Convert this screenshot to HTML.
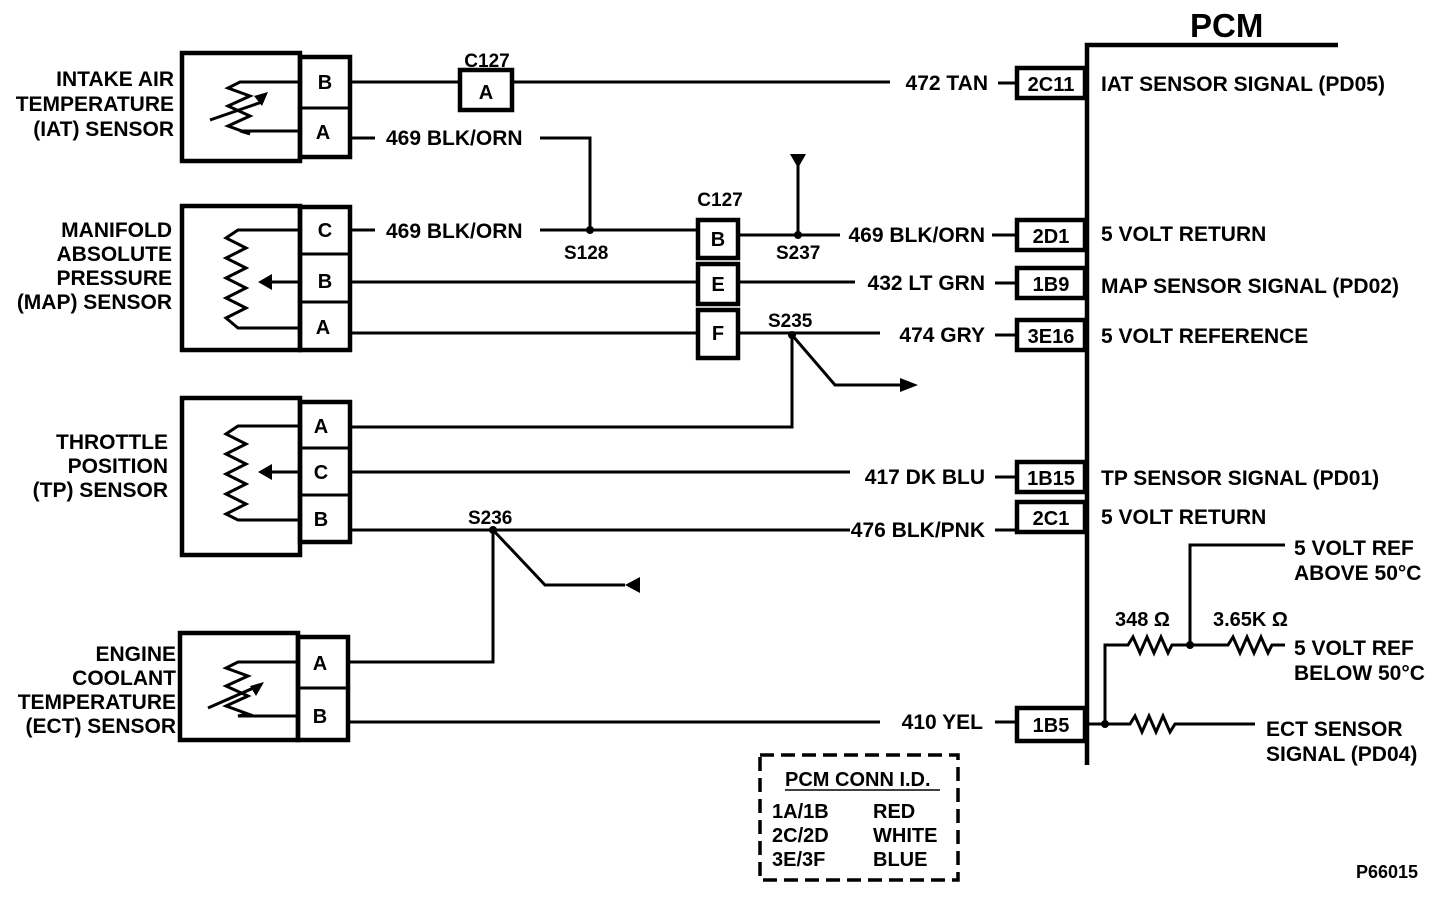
<!DOCTYPE html>
<html><head><style>body{margin:0;background:#fff}svg{display:block}text{font-family:"Liberation Sans",sans-serif;font-weight:bold;fill:#000}</style></head><body>
<svg width="1456" height="900" viewBox="0 0 1456 900" xmlns="http://www.w3.org/2000/svg">
<g stroke="#000" fill="none" stroke-width="3">
<path d="M1087 765V45H1338" stroke-width="4.5"/>
<g stroke-width="4.5">
<rect x="1017" y="68" width="68" height="30"/>
<rect x="1017" y="220" width="68" height="30"/>
<rect x="1017" y="268" width="68" height="30"/>
<rect x="1017" y="320" width="68" height="30"/>
<rect x="1017" y="462" width="68" height="30"/>
<rect x="1017" y="502" width="68" height="30"/>
<rect x="1017" y="708" width="68" height="33"/>
<rect x="182" y="53" width="118" height="108"/>
<rect x="300" y="57" width="50" height="100"/>
<rect x="182" y="206" width="118" height="144"/>
<rect x="300" y="207" width="50" height="143"/>
<rect x="182" y="398" width="118" height="157"/>
<rect x="300" y="402" width="50" height="140"/>
<rect x="180" y="633" width="118" height="107"/>
<rect x="298" y="637" width="50" height="103"/>
<rect x="460" y="70" width="52" height="40"/>
<rect x="698" y="220" width="40" height="38"/>
<rect x="698" y="264" width="40" height="40"/>
<rect x="698" y="310" width="40" height="48"/>
</g>
<path d="M300 108H350M300 254H350M300 302H350M300 448H350M300 495H350M298 688H348"/>
<path d="M350 82H460M512 82H890M998 83H1017"/>
<path d="M350 138H375M540 138H590V230M350 230H375M540 230H698"/>
<path d="M738 235H840M798 235V162M992 235H1017"/>
<path d="M350 282H698M738 282H855M995 283H1017"/>
<path d="M350 333H698M738 333H880M792 335L835 385H900M995 335H1017"/>
<path d="M350 427H792V335"/>
<path d="M350 472H850M995 477H1017"/>
<path d="M350 530H850M995 530H1017M493 530L545 585H625M493 530V662H350"/>
<path d="M350 722H880M995 722H1017"/>
<path d="M1087 724H1130L1135 716L1142 732L1149 716L1156 732L1163 716L1170 732L1175 724H1255"/>
<path d="M1105 724V645H1128L1133 637L1140 653L1147 637L1154 653L1161 637L1168 653L1172 645H1228L1233 637L1240 653L1247 637L1254 653L1261 637L1268 653L1272 645H1285"/>
<path d="M1190 645V545H1285"/>
<path d="M300 82H240L228 88L250 96L228 106L250 116L228 126L250 134L240 131H300"/>
<path d="M210 120L262 102"/>
<path d="M300 230H238L226 238L246 248L226 258L246 268L226 278L246 288L226 298L246 308L226 318L238 328H300"/>
<path d="M300 282H270"/>
<path d="M300 426H238L226 434L246 444L226 454L246 464L226 474L246 484L226 494L246 504L226 514L238 520H300"/>
<path d="M300 472H270"/>
<path d="M298 662H238L226 668L248 676L226 686L248 696L226 706L248 714L238 716H298"/>
<path d="M208 708L258 686"/>
<rect x="760" y="755" width="198" height="125" stroke-dasharray="14 7" stroke-width="3.5"/>
<path d="M785 790H940" stroke-width="1.5"/>
</g>
<g fill="#000">
<circle cx="590" cy="230" r="4"/><circle cx="798" cy="235" r="4"/><circle cx="792" cy="335" r="4"/><circle cx="493" cy="530" r="4"/>
<circle cx="1105" cy="724" r="4"/><circle cx="1190" cy="645" r="4"/>
<path d="M790 154H806L798 168Z"/><path d="M900 378L918 385L900 392Z"/><path d="M625 585L640 577V593Z"/>
<path d="M268 92L254 96L262 106Z"/><path d="M258 282L272 274V290Z"/><path d="M258 472L272 464V480Z"/><path d="M264 682L250 686L256 696Z"/>
</g>
<g font-size="20" text-anchor="middle">
<text x="325" y="89">B</text><text x="323" y="139">A</text><text x="486" y="99">A</text><text x="487" y="67" font-weight="normal" font-size="19">C127</text>
<text x="325" y="237">C</text><text x="325" y="288">B</text><text x="323" y="334">A</text>
<text x="718" y="246">B</text><text x="718" y="291">E</text><text x="718" y="340">F</text><text x="720" y="206" font-weight="normal" font-size="19">C127</text>
<text x="321" y="433">A</text><text x="321" y="479">C</text><text x="321" y="526">B</text>
<text x="320" y="670">A</text><text x="320" y="723">B</text>
<text x="1051" y="91">2C11</text><text x="1051" y="243">2D1</text><text x="1051" y="291">1B9</text><text x="1051" y="343">3E16</text><text x="1051" y="485">1B15</text><text x="1051" y="525">2C1</text><text x="1051" y="732">1B5</text>
</g>
<g font-size="21" text-anchor="end">
<text x="174" y="86">INTAKE AIR</text><text x="174" y="111">TEMPERATURE</text><text x="174" y="136">(IAT) SENSOR</text>
<text x="172" y="237">MANIFOLD</text><text x="172" y="261">ABSOLUTE</text><text x="172" y="285">PRESSURE</text><text x="172" y="309">(MAP) SENSOR</text>
<text x="168" y="449">THROTTLE</text><text x="168" y="473">POSITION</text><text x="168" y="497">(TP) SENSOR</text>
<text x="176" y="661">ENGINE</text><text x="176" y="685">COOLANT</text><text x="176" y="709">TEMPERATURE</text><text x="176" y="733">(ECT) SENSOR</text>
<text x="988" y="90">472 TAN</text><text x="985" y="242">469 BLK/ORN</text><text x="985" y="290">432 LT GRN</text><text x="985" y="342">474 GRY</text>
<text x="985" y="484">417 DK BLU</text><text x="985" y="537">476 BLK/PNK</text><text x="983" y="729">410 YEL</text>
<text x="1418" y="878" font-size="18">P66015</text>
</g>
<g font-size="21">
<text x="386" y="145">469 BLK/ORN</text><text x="386" y="238">469 BLK/ORN</text>
<text x="564" y="259" font-size="19">S128</text><text x="776" y="259" font-size="19">S237</text><text x="768" y="327" font-size="19">S235</text><text x="468" y="524" font-size="19">S236</text>
<text x="1101" y="91">IAT SENSOR SIGNAL (PD05)</text><text x="1101" y="241">5 VOLT RETURN</text><text x="1101" y="293">MAP SENSOR SIGNAL (PD02)</text><text x="1101" y="343">5 VOLT REFERENCE</text>
<text x="1101" y="485">TP SENSOR SIGNAL (PD01)</text><text x="1101" y="524">5 VOLT RETURN</text>
<text x="1294" y="555">5 VOLT REF</text><text x="1294" y="580">ABOVE 50°C</text><text x="1294" y="655">5 VOLT REF</text><text x="1294" y="680">BELOW 50°C</text>
<text x="1266" y="736">ECT SENSOR</text><text x="1266" y="761">SIGNAL (PD04)</text>
<text x="1115" y="626" font-size="20">348 Ω</text><text x="1213" y="626" font-size="20">3.65K Ω</text>
<text x="1190" y="37" font-size="33">PCM</text>
<text x="785" y="786" font-weight="normal" font-size="20">PCM CONN I.D.</text>
<text x="772" y="818" font-weight="normal" font-size="20">1A/1B</text><text x="772" y="842" font-weight="normal" font-size="20">2C/2D</text><text x="772" y="866" font-weight="normal" font-size="20">3E/3F</text>
<text x="873" y="818" font-weight="normal" font-size="20">RED</text><text x="873" y="842" font-weight="normal" font-size="20">WHITE</text><text x="873" y="866" font-weight="normal" font-size="20">BLUE</text>
</g>
</svg>
</body></html>
